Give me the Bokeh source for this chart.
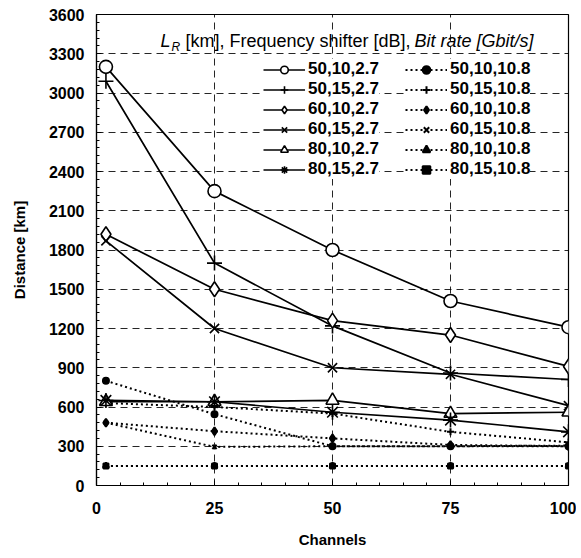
from bokeh.plotting import figure
from bokeh.models import FixedTicker, Legend, LegendItem, Label
from bokeh.embed import file_html
from bokeh.resources import INLINE

# ---------------- data ----------------
channels = [2, 25, 50, 75, 100]

labels_27 = ["50,10,2.7", "50,15,2.7", "60,10,2.7", "60,15,2.7", "80,10,2.7", "80,15,2.7"]
dist_50_10_27 = [3200, 2250, 1800, 1410, 1210]
dist_50_15_27 = [3090, 1700, 1220, 860, 810]
dist_60_10_27 = [1920, 1500, 1260, 1150, 910]
dist_60_15_27 = [1870, 1200, 900, 850, 610]
dist_80_10_27 = [640, 640, 650, 550, 560]
dist_80_15_27 = [650, 640, 560, 500, 410]

labels_108 = ["50,10,10.8", "50,15,10.8", "60,10,10.8", "60,15,10.8", "80,10,10.8", "80,15,10.8"]
dist_50_10_108 = [800, 545, 300, 300, 300]
dist_50_15_108 = [630, 600, 550, 410, 330]
dist_60_10_108 = [480, 415, 360, 310, 300]
dist_60_15_108 = [480, 295, 300, 300, 305]
dist_80_10_108 = [150, 150, 150, 150, 150]
dist_80_15_108 = [150, 150, 150, 150, 150]

x_ticks = [0, 25, 50, 75, 100]
y_ticks = [0, 300, 600, 900, 1200, 1500, 1800, 2100, 2400, 2700, 3000, 3300, 3600]

header_parts = ["L", "R", "[km], Frequency shifter [dB],", "Bit rate [Gbit/s]"]

FONT = "Liberation Sans"

# ---------------- figure ----------------
p = figure(width=576, height=556, x_range=(0, 100), y_range=(0, 3600),
           output_backend="svg", toolbar_location=None,
           min_border_left=96, min_border_right=8, min_border_top=14, min_border_bottom=71,
           background_fill_color="white", border_fill_color="white")

p.outline_line_color = "black"
p.outline_line_width = 1.2

x_minor = [x_ticks[0] + i * 5 for i in range(21)]
y_minor = [i * 60 for i in range(61)]
p.xaxis.ticker = FixedTicker(ticks=x_ticks, minor_ticks=x_minor)
p.yaxis.ticker = FixedTicker(ticks=y_ticks, minor_ticks=y_minor)

for ax in (p.xaxis[0], p.yaxis[0]):
    ax.major_tick_in = 5
    ax.major_tick_out = 0
    ax.minor_tick_in = 3
    ax.minor_tick_out = 0
    ax.axis_line_color = "black"
    ax.axis_line_width = 1.2
    ax.major_tick_line_color = "black"
    ax.minor_tick_line_color = "black"
    ax.major_label_text_font = FONT
    ax.major_label_text_font_size = "16px"
    ax.major_label_text_font_style = "bold"
    ax.major_label_text_color = "black"
    ax.axis_label_text_font = FONT
    ax.axis_label_text_font_size = "15px"
    ax.axis_label_text_font_style = "bold"
    ax.axis_label_text_color = "black"

p.xaxis.axis_label = "Channels"
p.yaxis.axis_label = "Distance [km]"
p.xaxis.major_label_standoff = 16
p.xaxis.axis_label_standoff = 14
p.yaxis.major_label_standoff = 12
p.yaxis.axis_label_standoff = 18

p.xgrid.ticker = FixedTicker(ticks=x_ticks)
p.ygrid.ticker = FixedTicker(ticks=y_ticks)
for g in (p.xgrid[0], p.ygrid[0]):
    g.grid_line_color = "black"
    g.grid_line_width = 1
    g.grid_line_dash = "7 5"
    g.grid_line_alpha = 0.85

# ---------------- dotted (10.8 Gbit/s) series ----------------
dotted_series = [dist_50_10_108, dist_50_15_108, dist_60_10_108,
                 dist_60_15_108, dist_80_10_108, dist_80_15_108]
dotted_markers = [("circle", 6), ("cross", 7), ("diamond", 8),
                  ("x", 6), ("triangle", 6), ("square", 5)]
dotted_items = []
for lab, ys, (mk, sz) in zip(labels_108, dotted_series, dotted_markers):
    lr = p.line(channels, ys, line_color="black", line_width=2, line_dash="2 3")
    sr = p.scatter(channels, ys, marker=mk, size=sz, line_color="black",
                   fill_color="black", line_width=2)
    dotted_items.append(LegendItem(label=lab, renderers=[lr, sr]))

# ---------------- solid (2.7 Gbit/s) series ----------------
solid_series = [dist_50_10_27, dist_50_15_27, dist_60_10_27,
                dist_60_15_27, dist_80_10_27, dist_80_15_27]
solid_markers = [("circle", 13), ("cross", 15), ("diamond", 15),
                 ("x", 13), ("triangle", 13), ("asterisk", 15)]
solid_items = []
for lab, ys, (mk, sz) in zip(labels_27, solid_series, solid_markers):
    lr = p.line(channels, ys, line_color="black", line_width=1.7)
    sr = p.scatter(channels, ys, marker=mk, size=sz, line_color="black",
                   fill_color="white", line_width=1.6)
    solid_items.append(LegendItem(label=lab, renderers=[lr, sr]))


def make_legend(items, loc):
    lg = Legend(items=items, location=loc, orientation="vertical",
                label_text_font=FONT, label_text_font_size="17px",
                label_text_font_style="bold",
                label_text_color="black",
                glyph_width=42, glyph_height=19, label_height=19,
                label_standoff=3, spacing=0, padding=0, margin=0,
                border_line_color=None, background_fill_color="white",
                background_fill_alpha=1.0)
    return lg

p.add_layout(make_legend(solid_items, (167, 306)))
p.add_layout(make_legend(dotted_items, (309, 306)))

# ---------------- legend header ----------------
hy = 445
p.add_layout(Label(x=64, y=hy, x_units="screen", y_units="screen", text=header_parts[0],
                   text_font=FONT, text_font_size="18px", text_font_style="italic",
                   text_baseline="middle", text_color="black"))
p.add_layout(Label(x=75, y=hy - 6, x_units="screen", y_units="screen", text=header_parts[1],
                   text_font=FONT, text_font_size="12px", text_font_style="italic",
                   text_baseline="middle", text_color="black"))
p.add_layout(Label(x=89, y=hy, x_units="screen", y_units="screen", text=header_parts[2],
                   text_font=FONT, text_font_size="18px", text_font_style="normal",
                   text_baseline="middle", text_color="black"))
p.add_layout(Label(x=318, y=hy, x_units="screen", y_units="screen", text=header_parts[3],
                   text_font=FONT, text_font_size="18px", text_font_style="italic",
                   text_baseline="middle", text_color="black"))

open("out.html", "w").write(file_html(p, INLINE))
